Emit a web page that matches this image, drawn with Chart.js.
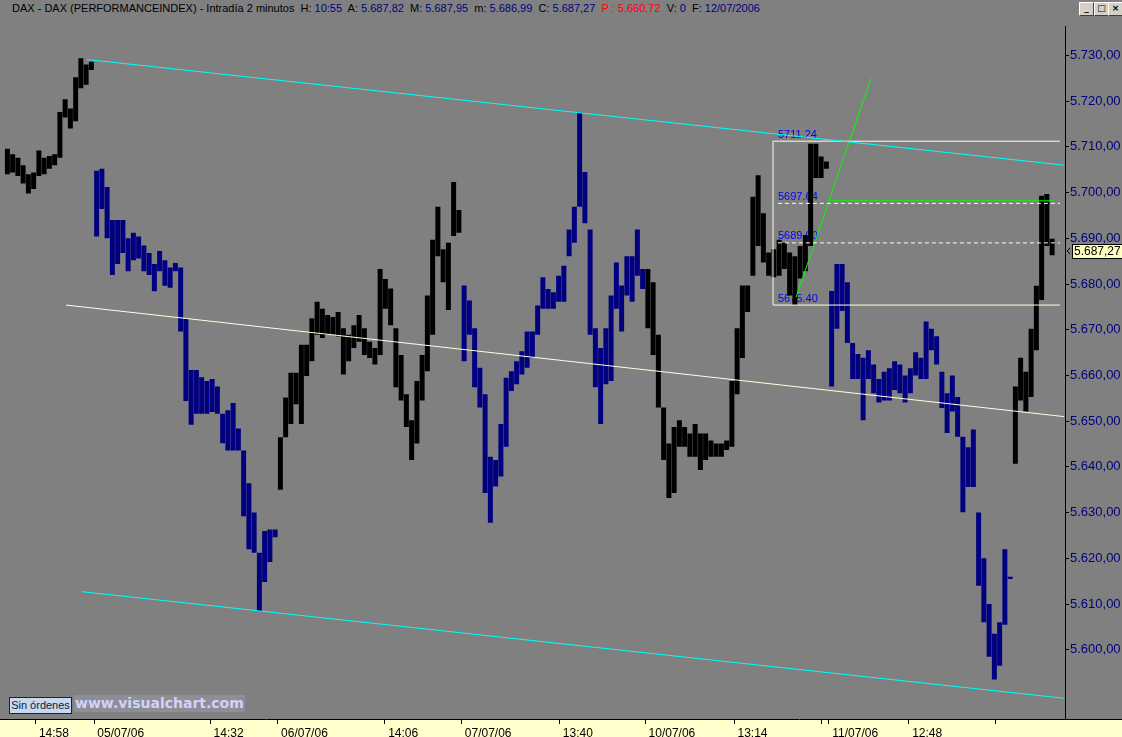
<!DOCTYPE html>
<html>
<head>
<meta charset="utf-8">
<script src="https://cdn.jsdelivr.net/npm/chart.js@4.4.0/dist/chart.umd.min.js"></script>
<style>
html, body { margin: 0; padding: 0; background: #808080; overflow: hidden; }
#wrap { position: relative; width: 1122px; height: 737px; }
#hdr { position: absolute; left: 0; top: 0; width: 1122px; height: 18px; font: 11px "Liberation Sans", Arial, sans-serif; line-height: 17px; white-space: pre; color: #000; padding-left: 12px; box-sizing: border-box; }
#hdr .v { color: #000080; }
#hdr .r { color: #ff0000; }
.btn { position: absolute; top: 2px; width: 13px; height: 12px; background: #d4d0c8; border: 1px solid #404040; border-top-color: #fff; border-left-color: #fff; font: bold 9px "DejaVu Sans", sans-serif; line-height: 11px; text-align: center; color: #000; }
#c { position: absolute; left: 0; top: 18px; }
#orders { position: absolute; left: 9px; top: 697px; width: 61px; height: 15px; background: #c8d8ee; border: 1px solid #1a2430; font: 11px "Liberation Sans", Arial, sans-serif; line-height: 15px; text-align: center; color: #0a1a40; }
#site { position: absolute; left: 74px; top: 695px; height: 17px; padding: 0 1px; background: #8e8e96; font: bold 14px "DejaVu Sans", Verdana, sans-serif; line-height: 17px; color: #d2d2f8; }
</style>
</head>
<body>
<div id="wrap">
  <div id="hdr">DAX - DAX (PERFORMANCEINDEX) - Intradía 2 minutos  H: <span class="v">10:55</span>  A: <span class="v">5.687,82</span>  M: <span class="v">5.687,95</span>  m: <span class="v">5.686,99</span>  C: <span class="v">5.687,27</span>  <span class="r">P : 5.660,72</span>  V: <span class="v">0</span>  F: <span class="v">12/07/2006</span></div>
  <div class="btn" style="left:1079px">_</div>
  <div class="btn" style="left:1094px">□</div>
  <div class="btn" style="left:1108px">×</div>
  <canvas id="c" width="1122" height="719"></canvas>
  <div id="orders">Sin órdenes</div>
  <div id="site">www.visualchart.com</div>
</div>
<script>
// trading days shown, each session 09:00-17:45 (525 min), 15-minute buckets
var days = ['04/07/06', '05/07/06', '06/07/06', '07/07/06', '10/07/06', '11/07/06', '12/07/06'];
var firstBucket = ['13:30', '09:00', '09:00', '09:00', '09:00', '09:00', '09:00'];

var low0 = [5704.0, 5704.4, 5703.6, 5702.0, 5699.8, 5700.8, 5703.6, 5704.0, 5705.2, 5706.0, 5707.6, 5716.4, 5714.0, 5715.6, 5722.8, 5723.6, 5726.8];
var high0 = [5709.6, 5708.4, 5707.6, 5706.0, 5704.0, 5704.4, 5709.2, 5707.6, 5708.0, 5708.4, 5717.6, 5720.4, 5718.4, 5725.2, 5729.4, 5728.0, 5728.6];

var low1 = [5690.4, 5696.4, 5690.0, 5682.0, 5684.4, 5686.8, 5682.8, 5685.2, 5685.6, 5682.8, 5682.0, 5678.4, 5682.8, 5679.6, 5679.2, 5682.8, 5669.6, 5654.4, 5649.2, 5651.6, 5651.6, 5651.6, 5652.0, 5651.6, 5645.2, 5643.6, 5643.6, 5643.6, 5629.2, 5622.0, 5621.2, 5608.5, 5614.8, 5619.2, 5624.6];
var high1 = [5704.8, 5705.2, 5701.2, 5694.0, 5694.0, 5694.0, 5690.0, 5691.2, 5690.4, 5688.4, 5686.8, 5684.4, 5687.2, 5685.2, 5683.6, 5684.6, 5683.6, 5672.4, 5661.2, 5661.2, 5659.6, 5658.8, 5659.2, 5657.6, 5651.6, 5652.4, 5654.0, 5648.4, 5643.6, 5636.4, 5630.0, 5621.2, 5626.0, 5626.3, 5626.3];

var low2 = [5635.0, 5646.5, 5649.4, 5653.7, 5649.4, 5659.9, 5663.1, 5668.9, 5668.2, 5668.9, 5668.9, 5668.5, 5660.2, 5663.1, 5666.0, 5667.4, 5664.5, 5663.8, 5662.4, 5664.5, 5674.6, 5671.0, 5657.4, 5654.5, 5648.7, 5641.5, 5645.1, 5654.5, 5660.9, 5668.9, 5686.1, 5680.4, 5674.3, 5690.5, 5691.2];
var high2 = [5646.5, 5655.2, 5660.6, 5660.6, 5666.7, 5666.7, 5672.5, 5676.1, 5674.6, 5673.2, 5672.8, 5673.9, 5670.3, 5668.9, 5671.0, 5673.2, 5670.3, 5667.4, 5666.0, 5683.3, 5681.1, 5679.0, 5670.3, 5664.5, 5655.9, 5650.2, 5658.8, 5664.5, 5677.5, 5689.7, 5696.9, 5687.6, 5689.0, 5702.3, 5696.2];

var low3 = [5663.1, 5668.9, 5657.4, 5653.0, 5634.3, 5627.8, 5635.7, 5637.9, 5644.4, 5656.6, 5658.1, 5660.2, 5661.7, 5663.8, 5668.9, 5674.6, 5674.6, 5674.6, 5676.1, 5676.1, 5686.1, 5689.0, 5696.9, 5693.3, 5668.9, 5657.4, 5649.4, 5658.1, 5658.8, 5674.6, 5669.6, 5677.5, 5676.1, 5681.8, 5678.9];
var high3 = [5679.7, 5676.4, 5670.3, 5661.7, 5655.9, 5642.2, 5641.5, 5649.4, 5659.5, 5660.9, 5663.1, 5665.3, 5669.6, 5669.6, 5675.3, 5681.5, 5678.9, 5678.2, 5681.8, 5684.0, 5691.9, 5696.9, 5717.5, 5704.5, 5691.9, 5670.3, 5666.0, 5670.3, 5677.5, 5684.7, 5679.7, 5686.1, 5686.1, 5691.9, 5683.3];

var low4 = [5670.3, 5664.5, 5653.0, 5641.5, 5633.2, 5634.3, 5644.4, 5644.4, 5642.2, 5642.2, 5639.3, 5641.5, 5642.2, 5642.2, 5642.2, 5643.7, 5644.4, 5655.9, 5663.8, 5673.9, 5681.8, 5688.3, 5684.7, 5681.8, 5681.5, 5681.8, 5683.3, 5677.5, 5675.4, 5681.2, 5682.8, 5688.3, 5703.2, 5703.2, 5705.2];
var high4 = [5683.3, 5680.4, 5668.9, 5653.0, 5645.1, 5648.7, 5650.2, 5648.7, 5647.3, 5649.4, 5647.3, 5647.3, 5645.8, 5645.1, 5645.1, 5645.8, 5658.8, 5670.3, 5679.7, 5679.7, 5699.1, 5703.8, 5695.5, 5686.9, 5687.6, 5689.7, 5689.0, 5686.9, 5686.1, 5688.3, 5690.7, 5710.7, 5710.7, 5707.9, 5706.8];

var low5 = [5657.6, 5670.2, 5674.1, 5667.1, 5659.2, 5659.2, 5650.2, 5659.2, 5656.1, 5654.1, 5654.5, 5654.5, 5656.8, 5656.1, 5654.1, 5656.1, 5660.0, 5659.2, 5659.2, 5665.5, 5662.4, 5652.9, 5647.4, 5652.1, 5646.6, 5630.1, 5635.6, 5635.6, 5614.0, 5606.0, 5598.5, 5593.5, 5596.5, 5605.5, 5615.5];
var high5 = [5678.5, 5684.4, 5684.4, 5680.4, 5667.1, 5664.7, 5663.9, 5665.5, 5662.4, 5659.2, 5660.8, 5661.6, 5663.1, 5662.4, 5660.0, 5661.6, 5665.1, 5663.9, 5671.8, 5670.2, 5668.6, 5660.8, 5656.1, 5660.0, 5655.3, 5646.6, 5644.3, 5648.2, 5630.0, 5620.0, 5610.0, 5603.5, 5606.0, 5622.0, 5616.0];

var low6 = [5640.7, 5654.5, 5652.1, 5655.3, 5665.5, 5676.5, 5688.3, 5686.3];
var high6 = [5657.6, 5663.9, 5660.8, 5670.2, 5679.6, 5699.3, 5699.7, 5689.9];

var lastClose = 5687.27;

// x axis marks
var tickDay = [0, 1, 1, 2, 2, 3, 3, 4, 4, 4, 5, 5, 5];
var tickTime = ['14:58', '09:00', '14:32', '09:00', '14:06', '09:00', '13:40', '09:00', '13:14', '17:25', '09:00', '12:48', '16:57'];
var tickLabels = ['14:58', '05/07/06', '14:32', '06/07/06', '14:06', '07/07/06', '13:40', '10/07/06', '13:14', '', '11/07/06', '12:48', ''];
var yTicks = [5600, 5610, 5620, 5630, 5640, 5650, 5660, 5670, 5680, 5690, 5700, 5710, 5720, 5730];

// drawn studies: [day, time, price]
var upperChannel = [[0, '17:25', 5729.1], [6, '11:26', 5706.0]];
var lowerChannel = [[0, '17:11', 5612.7], [6, '11:26', 5589.4]];
var midChannel = [[0, '16:25', 5675.4], [6, '11:26', 5651.0]];
var trendLine = [[4, '16:11', 5677.1], [5, '11:00', 5725.0]];
var trendLevel = [[5, '09:00', 5698.2], [6, '10:55', 5698.2]];
var fibLevels = [5711.24, 5697.64, 5689.00, 5675.40];
var fibStart = [4, '15:05'];
var fibEnd = [6, '11:15'];

var SESSION = 525;
function at(d, t) {
  var p = t.split(':');
  return d * SESSION + (+p[0] - 9) * 60 + (+p[1]);
}

var lows = [low0, low1, low2, low3, low4, low5, low6];
var highs = [high0, high1, high2, high3, high4, high5, high6];
var bars = [], barColors = [];
for (var d = 0; d < days.length; d++) {
  var s = at(d, firstBucket[d]);
  for (var i = 0; i < lows[d].length; i++) {
    bars.push({x: s + 15 * i + 7.5, y: [lows[d][i], highs[d][i]]});
    barColors.push(d % 2 ? '#000080' : '#000000');
  }
}

function seg(pts, color, dash) {
  return {
    type: 'line',
    data: pts.map(function (p) { return {x: at(p[0], p[1]), y: p[2]}; }),
    borderColor: color,
    borderWidth: 1,
    borderDash: dash || [],
    pointRadius: 0,
    order: 1
  };
}

var fx0 = at(fibStart[0], fibStart[1]), fx1 = at(fibEnd[0], fibEnd[1]);
var lineSets = [
  seg(upperChannel, '#00ffff'),
  seg(lowerChannel, '#00ffff'),
  seg(midChannel, '#ffffe0')
];
fibLevels.forEach(function (lv, i) {
  var dashed = i == 1 || i == 2;
  lineSets.push({
    type: 'line',
    data: [{x: dashed ? fx0 + 14 : fx0, y: lv}, {x: fx1, y: lv}],
    borderColor: '#ffffe0', borderWidth: 1, borderDash: dashed ? [4, 3] : [],
    pointRadius: 0, order: 1
  });
});
lineSets.push({
  type: 'line',
  data: [{x: fx0, y: fibLevels[3]}, {x: fx0, y: fibLevels[0]}],
  borderColor: '#ffffe0', borderWidth: 1, pointRadius: 0, order: 1
});
lineSets.push(seg(trendLine, '#00ff00'));
lineSets.push(seg(trendLevel, '#00ff00'));

function fmt(v) {
  var s = v.toFixed(2).split('.');
  return s[0].replace(/\B(?=(\d{3})+(?!\d))/g, '.') + ',' + s[1];
}

var decor = {
  id: 'decor',
  beforeDraw: function (chart) {
    var ctx = chart.ctx, a = chart.chartArea;
    ctx.save();
    ctx.fillStyle = '#808080';
    ctx.fillRect(0, 0, chart.width, chart.height);
    ctx.fillStyle = '#ffffcc';
    ctx.fillRect(0, a.bottom, chart.width, chart.height - a.bottom);
    ctx.restore();
  },
  beforeDatasetsDraw: function (chart) {
    var ctx = chart.ctx, xs = chart.scales.x, ys = chart.scales.y;
    ctx.save();
    ctx.fillStyle = '#0000ff';
    ctx.font = '11px "Liberation Sans", Arial, sans-serif';
    ctx.textBaseline = 'bottom';
    fibLevels.forEach(function (lv) {
      ctx.fillText(lv.toFixed(2), xs.getPixelForValue(fx0) + 5, ys.getPixelForValue(lv) - 1);
    });
    ctx.restore();
  },
  afterDraw: function (chart) {
    var ctx = chart.ctx, a = chart.chartArea, ys = chart.scales.y;
    ctx.save();
    ctx.strokeStyle = '#000';
    ctx.lineWidth = 1;
    ctx.beginPath();
    ctx.moveTo(a.right, a.bottom + 0.5);
    ctx.lineTo(chart.width, a.bottom + 0.5);
    ctx.stroke();
    var y = Math.round(ys.getPixelForValue(lastClose));
    ctx.fillStyle = '#ffffc0';
    ctx.fillRect(a.right + 7, y - 7, 50, 15);
    ctx.strokeRect(a.right + 7.5, y - 6.5, 50, 14);
    ctx.beginPath();
    ctx.moveTo(a.right + 5, y - 3);
    ctx.lineTo(a.right + 2, y);
    ctx.lineTo(a.right + 5, y + 3);
    ctx.stroke();
    ctx.fillStyle = '#000';
    ctx.font = '12px "Liberation Sans", Arial, sans-serif';
    ctx.textBaseline = 'middle';
    ctx.fillText(fmt(lastClose), a.right + 9, y + 1);
    ctx.restore();
  }
};

var ctx = document.getElementById('c');
var myChart = new Chart(ctx, {
  type: 'bar',
  data: {
    datasets: [{
      type: 'bar',
      data: bars,
      backgroundColor: barColors,
      borderWidth: 0,
      barPercentage: 0.95,
      categoryPercentage: 1,
      grouped: false,
      order: 2
    }].concat(lineSets)
  },
  options: {
    responsive: false,
    animation: false,
    devicePixelRatio: 1,
    layout: { padding: 0 },
    plugins: { legend: { display: false }, tooltip: { enabled: false } },
    scales: {
      x: {
        type: 'linear',
        min: 256.4,
        max: 3299.3,
        offset: false,
        grid: { drawOnChartArea: false, tickLength: 5, color: '#000', offset: false },
        border: { color: '#000' },
        afterBuildTicks: function (s) {
          s.ticks = tickDay.map(function (d, i) { return {value: at(d, tickTime[i])}; });
        },
        ticks: {
          autoSkip: false, maxRotation: 0, align: 'start', padding: 2, color: '#000',
          font: { family: '"Liberation Sans", Arial, sans-serif', size: 12 },
          callback: function (v, i) { return tickLabels[i] ? ' ' + tickLabels[i] : ''; }
        },
        afterFit: function (s) { s.height = 18; }
      },
      y: {
        position: 'right',
        min: 5584.86,
        max: 5736.26,
        beginAtZero: false,
        grid: { drawOnChartArea: false, tickLength: 4, color: '#000' },
        border: { color: '#000' },
        afterBuildTicks: function (s) {
          s.ticks = yTicks.map(function (v) { return {value: v}; });
        },
        ticks: {
          padding: 1, color: '#000080',
          font: { family: '"Liberation Sans", Arial, sans-serif', size: 13 },
          callback: function (v) { return fmt(v); }
        },
        afterFit: function (s) { s.width = 57; }
      }
    }
  },
  plugins: [decor]
});
</script>
</body>
</html>
